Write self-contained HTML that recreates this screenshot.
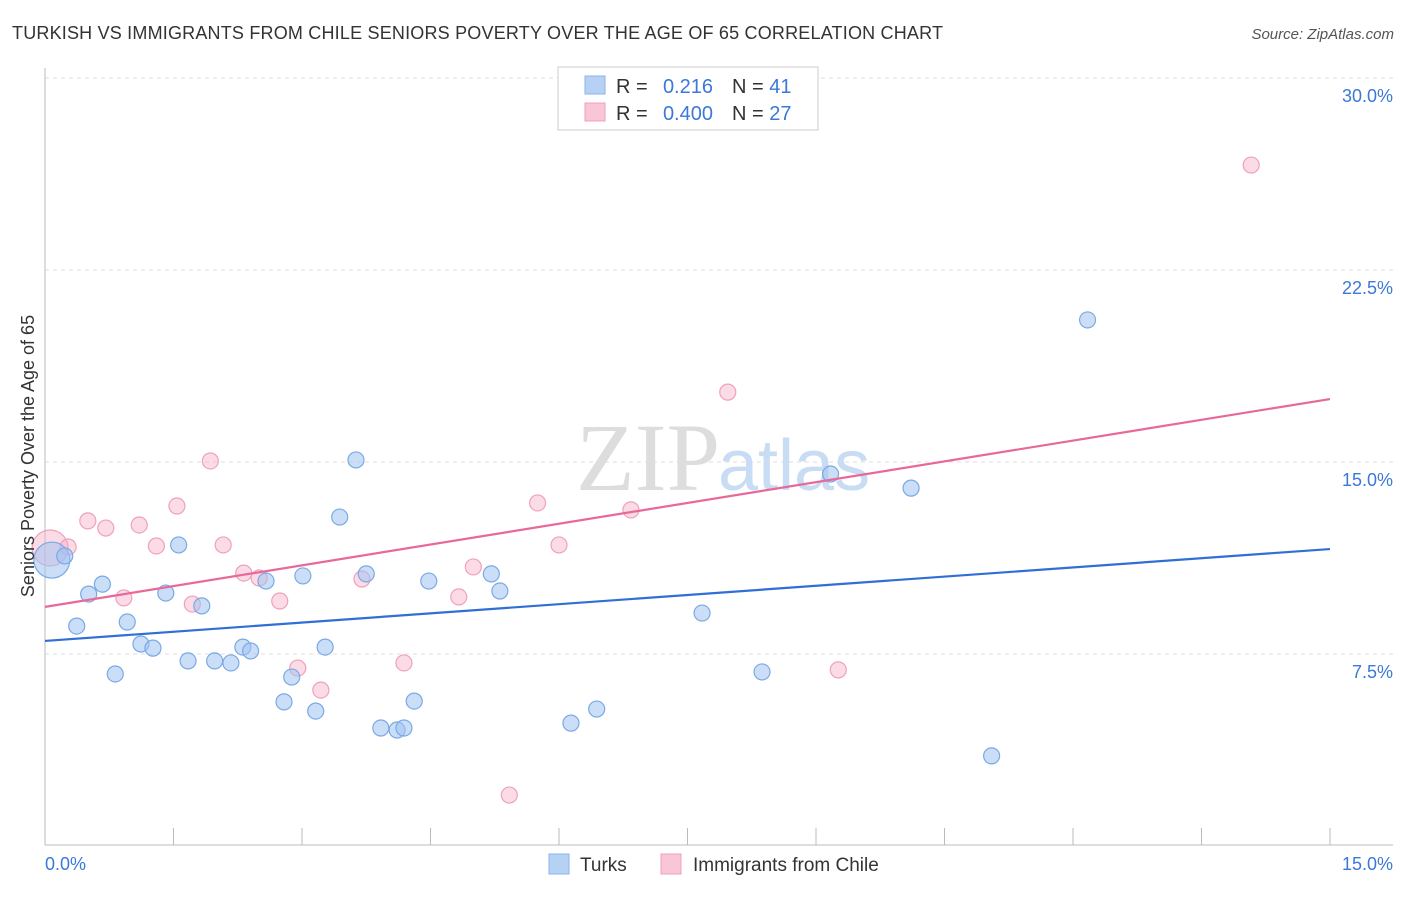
<!DOCTYPE html>
<html><head><meta charset="utf-8"><style>
body{margin:0;background:#fff;font-family:"Liberation Sans",sans-serif;}
</style></head><body>
<svg width="1406" height="892" xmlns="http://www.w3.org/2000/svg">
<text x="12" y="39" font-size="18" fill="#333" textLength="931">TURKISH VS IMMIGRANTS FROM CHILE SENIORS POVERTY OVER THE AGE OF 65 CORRELATION CHART</text>
<text x="1394" y="39" font-size="15" fill="#555" font-style="italic" text-anchor="end">Source: ZipAtlas.com</text>
<g id="grid"></g>
<text x="720" y="490" font-size="96" fill="#ddd" text-anchor="end" font-family="Liberation Serif">ZIP</text>
<text x="718" y="490" font-size="72" fill="#c8dcf3">atlas</text>
<g id="marks"></g>
<text transform="translate(34,456) rotate(-90)" font-size="18" fill="#333" text-anchor="middle">Seniors Poverty Over the Age of 65</text>
<text x="45" y="870" font-size="18" fill="#3b78d8">0.0%</text>
<text x="1393" y="870" font-size="18" fill="#3b78d8" text-anchor="end">15.0%</text>
<g>
<rect x="558" y="67" width="260" height="63" fill="#fff" stroke="#ccc"/>
<rect x="585" y="76" width="20" height="18" fill="#b7d1f5" stroke="#8ab4e8"/>
<rect x="585" y="103" width="20" height="18" fill="#f9c6d6" stroke="#f0a0bb"/>
<text x="616" y="93" font-size="20" fill="#333">R =</text>
<text x="713" y="93" font-size="20" fill="#3b78d8" text-anchor="end">0.216</text>
<text x="732" y="93" font-size="20" fill="#333">N = <tspan fill="#3b78d8">41</tspan></text>
<text x="616" y="120" font-size="20" fill="#333">R =</text>
<text x="713" y="120" font-size="20" fill="#3b78d8" text-anchor="end">0.400</text>
<text x="732" y="120" font-size="20" fill="#333">N = <tspan fill="#3b78d8">27</tspan></text>
</g>
<g>
<rect x="549" y="854" width="20" height="20" fill="#b7d1f5" stroke="#8ab4e8"/>
<text x="580" y="871" font-size="19" fill="#333">Turks</text>
<rect x="661" y="854" width="20" height="20" fill="#f9c6d6" stroke="#f0a0bb"/>
<text x="693" y="871" font-size="19" fill="#333">Immigrants from Chile</text>
</g>
</svg>
<script>
const yTicks=[7.5,15,22.5,30];
const xTickCount=10;
const turksX=[0.08,0.23,0.37,0.51,0.67,0.82,0.96,1.12,1.26,1.41,1.56,1.67,1.83,1.98,2.17,2.31,2.40,2.58,2.88,2.79,3.01,3.16,3.27,3.44,3.63,3.75,3.92,4.11,4.19,4.31,4.48,5.21,5.31,6.14,6.44,7.67,8.37,9.17,10.11,11.05,12.17];
const turksY=[11.17,11.33,8.59,9.84,10.23,6.72,8.75,7.89,7.73,9.88,11.76,7.23,9.38,7.23,7.15,7.77,7.62,10.35,6.60,5.63,10.55,5.27,7.77,12.85,15.08,10.63,4.61,4.53,4.61,5.66,10.35,10.63,9.96,4.80,5.35,9.10,6.80,14.53,13.98,3.52,20.55];
const chileX=[0.06,0.27,0.50,0.71,0.92,1.10,1.30,1.54,1.72,1.93,2.08,2.32,2.50,2.74,2.95,3.22,3.70,4.19,4.83,5.00,5.42,5.75,6.00,6.84,7.97,9.26,14.08];
const chileY=[11.64,11.68,12.70,12.42,9.69,12.54,11.72,13.28,9.45,15.04,11.76,10.66,10.47,9.57,6.95,6.09,10.43,7.15,9.73,10.90,1.99,13.40,11.76,13.13,17.73,6.88,26.60];
const turksTrend=[8.01,11.6];
const chileTrend=[9.34,17.46];
const NS="http://www.w3.org/2000/svg";
const xs=v=>45+v/15*1285;
const ys=v=>846-v/7.5*192;
function mk(tag,attrs,parent){const e=document.createElementNS(NS,tag);for(const k in attrs)e.setAttribute(k,attrs[k]);parent.appendChild(e);return e;}
const grid=document.getElementById('grid');
yTicks.forEach(t=>{
 const l=mk('line',{x1:45,x2:1393,y1:ys(t),y2:ys(t),stroke:'#ddd','stroke-dasharray':'4,4'},grid);
 
 
 const tx=mk('text',{x:1393,y:ys(t)+24,'font-size':18,fill:'#3b78d8','text-anchor':'end'},grid);
 tx.textContent=t.toFixed(1)+'%';
 
 
});
const ax=mk('line',{x1:45,x2:1393,y1:845,y2:845,stroke:'#bbb'},grid);


const ay=mk('line',{x1:45,x2:45,y1:68,y2:845,stroke:'#bbb'},grid);


for(let i=0;i<=xTickCount;i++){
 const t=mk('line',{x1:xs(i*15/xTickCount),x2:xs(i*15/xTickCount),y1:828,y2:845,stroke:'#bbb'},grid);
 
 
}
const marks=document.getElementById('marks');
function pts(X,Y,fill,stroke,name){
 X.forEach((x,i)=>{
  const r=i===0?18:8;
  const c=mk('circle',{cx:xs(x),cy:ys(Y[i]),r:r,fill:fill,stroke:stroke,'stroke-width':1.2},marks);
  
  
 });
}
pts(chileX,chileY,'rgba(246,175,200,0.45)','#f0a0bb','chile-point');
pts(turksX,turksY,'rgba(160,195,242,0.55)','#7aa9e4','turks-point');
const l1=mk('line',{x1:xs(0),y1:ys(turksTrend[0]),x2:xs(15),y2:ys(turksTrend[1]),stroke:'#2f6fd6','stroke-width':2.2},marks);


const l2=mk('line',{x1:xs(0),y1:ys(chileTrend[0]),x2:xs(15),y2:ys(chileTrend[1]),stroke:'#e8689a','stroke-width':2.2},marks);


</script>
</body></html>
